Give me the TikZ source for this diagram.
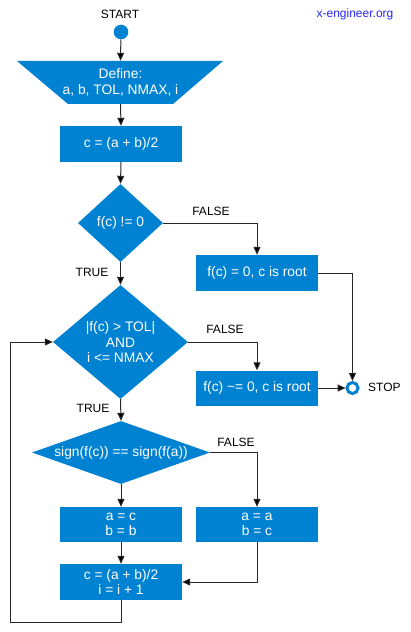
\documentclass[tikz,border=0pt]{standalone}
\usepackage{fontspec}
\setmainfont{Liberation Sans}
\usetikzlibrary{arrows.meta,shapes.geometric}
\definecolor{fcblue}{RGB}{0,130,210}
\definecolor{linkblue}{RGB}{40,40,245}
\definecolor{linegray}{RGB}{40,40,40}
\tikzset{
  boxfont/.style={font=\fontsize{13.8bp}{15.5bp}\selectfont},
  lblfont/.style={font=\fontsize{12bp}{14bp}\selectfont},
  procbox/.style={rectangle, fill=fcblue, text=white, boxfont, align=center,
    minimum width=122bp, inner sep=0pt},
  decision/.style={diamond, fill=fcblue, text=white, boxfont, align=center, inner sep=0pt},
  lbl/.style={lblfont, text=black, inner sep=0pt},
  arr/.style={draw=linegray, line width=1bp, -{Triangle[length=8bp,width=7bp,fill=black]}},
  ln/.style={draw=linegray, line width=1bp},
}
\begin{document}
\begin{tikzpicture}[x=1bp,y=-1bp]
\useasboundingbox[fill=white] (0,0) rectangle (410,632);

% texts at top
\node[lbl] (starttxt) at (120,14) {START};
\node[lbl, text=linkblue] (site) at (355,14) {x-engineer.org};

% start circle
\node[circle, fill=fcblue, minimum size=14.6bp, inner sep=0pt] (start) at (121,32) {};

% define trapezoid
\fill[fcblue] (17,61) -- (223,61) -- (173,104) -- (68,104) -- cycle;
\node[rectangle, minimum width=105bp, minimum height=43bp, inner sep=0pt, text=white, boxfont, align=center]
  (def) at (120.5,82.5) {Define:\\a, b, TOL, NMAX, i};

\node[procbox, minimum height=36bp] (c1) at (121,144) {c = (a + b)/2};

\node[decision, minimum width=85bp, minimum height=78bp, aspect=1.09] (d1) at (120.5,223) {f(c) != 0};

\node[procbox, minimum height=36bp] (r1) at (257,273) {f(c) = 0, c is root};

\node[decision, minimum width=135bp, minimum height=114bp, aspect=1.18] (d2) at (120.5,342) {|f(c) > TOL|\\AND\\i <= NMAX};

\node[procbox, minimum height=35bp] (r2) at (257,388) {f(c) \textasciitilde= 0, c is root};

\node[circle, draw=fcblue, line width=3bp, fill=white, minimum size=11bp, inner sep=0pt] (stop) at (352.5,388) {};
\node[lbl, anchor=west] (stoptxt) at (368,387) {STOP};

\node[decision, minimum width=178bp, minimum height=63bp, aspect=2.83] (d3) at (121,452.5) {sign(f(c)) == sign(f(a))};

\node[procbox, minimum height=35bp] (b1) at (121,524.5) {a = c\\b = b};
\node[procbox, minimum height=35bp] (b2) at (257,524.5) {a = a\\b = c};
\node[procbox, minimum height=36bp] (b3) at (121,582) {c = (a + b)/2\\i = i + 1};

% labels
\node[lbl] (f1) at (211,211) {FALSE};
\node[lbl] (t1) at (92,272) {TRUE};
\node[lbl] (f2) at (225,329) {FALSE};
\node[lbl] (t2) at (93,408) {TRUE};
\node[lbl] (f3) at (236,442) {FALSE};

% connectors
\draw[arr] (start) -- (def.north);
\draw[arr] (def.south) -- (c1.north);
\draw[arr] (c1.south) -- (d1.north);
\draw[arr] (d1.east) -| (r1.north);
\draw[arr] (d1.south) -- (d2.north);
\draw[arr] (r1.east) -| (stop.north);
\draw[arr] (d2.east) -| (r2.north);
\draw[arr] (r2.east) -- (stop.west);
\draw[arr] (d2.south) -- (d3.north);
\draw[arr] (d3.east) -| (b2.north);
\draw[arr] (d3.south) -- (b1.north);
\draw[arr] (b1.south) -- (b3.north);
\draw[arr] (b2.south) |- (b3.east);
\coordinate (loopA) at (121,622);
\coordinate (loopB) at (10,622);
\draw[arr] (b3.south) -- (loopA) -- (loopB) |- (d2.west);
\end{tikzpicture}
\end{document}
